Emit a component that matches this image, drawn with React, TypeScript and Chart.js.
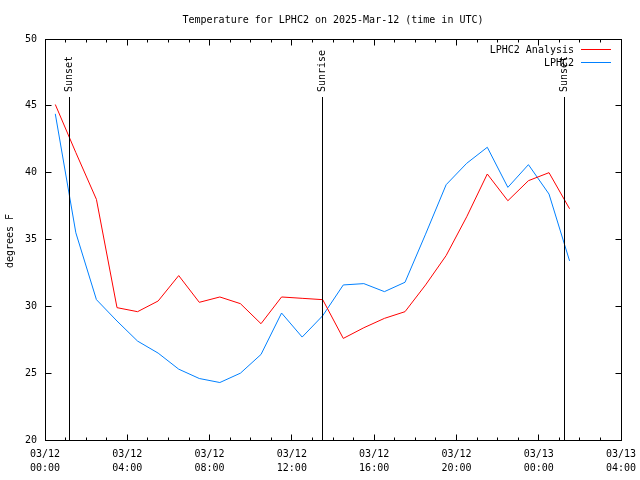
import React, { useEffect, useRef } from "react";
import { Chart, registerables } from "chart.js";

Chart.register(...registerables);

// ---- data (hours after 03/12 00:00 UTC) ----
const hours = [
  0.5, 1.5, 2.5, 3.5, 4.5, 5.5, 6.5, 7.5, 8.5, 9.5, 10.5, 11.5, 12.5,
  13.5, 14.5, 15.5, 16.5, 17.5, 18.5, 19.5, 20.5, 21.5, 22.5, 23.5, 24.5, 25.5,
];
const analysisTemps = [
  45.1, 41.5, 38.0, 29.9, 29.6, 30.4, 32.3, 30.3, 30.7, 30.2, 28.7, 30.7, 30.6,
  30.5, 27.6, 28.4, 29.1, 29.6, 31.6, 33.8, 36.7, 39.9, 37.9, 39.4, 40.0, 37.3,
];
const observedTemps = [
  44.4, 35.5, 30.5, 28.9, 27.4, 26.5, 25.3, 24.6, 24.3, 25.0, 26.4, 29.5, 27.7,
  29.3, 31.6, 31.7, 31.1, 31.8, 35.4, 39.1, 40.7, 41.9, 38.9, 40.6, 38.4, 33.4,
];
const seriesLabels = ["LPHC2 Analysis", "LPHC2"];
const seriesColors = ["#ff0000", "#0080ff"];

const sunLabels = ["Sunset", "Sunrise", "Sunset"];
const sunHours = [1.19, 13.49, 25.25];

const xTickDates = ["03/12", "03/12", "03/12", "03/12", "03/12", "03/12", "03/13", "03/13"];
const xTickTimes = ["00:00", "04:00", "08:00", "12:00", "16:00", "20:00", "00:00", "04:00"];
const yTicks = [20, 25, 30, 35, 40, 45, 50];

const titleText = "Temperature for LPHC2 on 2025-Mar-12 (time in UTC)";
const yTitle = "degrees F";

const FONT = "DejaVu Sans Mono";

const overlay = {
  id: "overlay",
  afterDatasetsDraw(chart: any) {
    const { ctx, chartArea: a, scales } = chart;
    const xs = scales.x;
    const ys = scales.y;
    const L = Math.floor(a.left) + 0.5;
    const R = Math.floor(a.right) + 0.5;
    const T = Math.floor(a.top) + 0.5;
    const B = Math.floor(a.bottom) + 0.5;
    const line = (x1: number, y1: number, x2: number, y2: number) => {
      ctx.beginPath();
      ctx.moveTo(x1, y1);
      ctx.lineTo(x2, y2);
      ctx.stroke();
    };
    ctx.save();
    ctx.strokeStyle = "#000";
    ctx.lineWidth = 1;
    ctx.strokeRect(L, T, R - L, B - T);
    // x ticks (hourly minor, 4-hourly major), inward on bottom and top
    for (let h = 1; h < 28; h++) {
      const px = Math.floor(xs.getPixelForValue(h)) + 0.5;
      const len = h % 4 === 0 ? 6 : 3;
      line(px, B, px, B - len);
      line(px, T, px, T + len);
    }
    // y ticks inward on left and right
    for (const v of yTicks) {
      const py = Math.floor(ys.getPixelForValue(v)) + 0.5;
      line(L, py, L + 6, py);
      line(R, py, R - 6, py);
    }
    // sun event lines and labels
    ctx.fillStyle = "#000";
    ctx.font = `10px "${FONT}"`;
    sunHours.forEach((h, i) => {
      const px = Math.floor(xs.getPixelForValue(h)) + 0.5;
      line(px, 97, px, B);
      ctx.save();
      ctx.translate(px, 92);
      ctx.rotate(-Math.PI / 2);
      ctx.textAlign = "left";
      ctx.textBaseline = "middle";
      ctx.fillText(sunLabels[i], 0, 0);
      ctx.restore();
    });
    // legend
    const legY = [50, 63];
    seriesLabels.forEach((lab, i) => {
      ctx.textAlign = "right";
      ctx.textBaseline = "middle";
      ctx.fillStyle = "#000";
      ctx.fillText(lab, 574, legY[i]);
      ctx.strokeStyle = seriesColors[i];
      line(581, legY[i] - 0.5, 611, legY[i] - 0.5);
    });
    // title
    ctx.fillStyle = "#000";
    ctx.textAlign = "center";
    ctx.textBaseline = "middle";
    ctx.fillText(titleText, (a.left + a.right) / 2, 20);
    // y axis title
    ctx.save();
    ctx.translate(10, 241);
    ctx.rotate(-Math.PI / 2);
    ctx.textAlign = "center";
    ctx.textBaseline = "middle";
    ctx.fillText(yTitle, 0, 0);
    ctx.restore();
    ctx.restore();
  },
};

export default function App() {
  const ref = useRef<HTMLCanvasElement | null>(null);
  useEffect(() => {
    if (!ref.current) return;
    const chart = new Chart(ref.current, {
      type: "line",
      data: {
        datasets: [
          {
            label: seriesLabels[0],
            data: hours.map((h, i) => ({ x: h, y: analysisTemps[i] })),
            borderColor: seriesColors[0],
            borderWidth: 1,
            pointRadius: 0,
            tension: 0,
            fill: false,
          },
          {
            label: seriesLabels[1],
            data: hours.map((h, i) => ({ x: h, y: observedTemps[i] })),
            borderColor: seriesColors[1],
            borderWidth: 1,
            pointRadius: 0,
            tension: 0,
            fill: false,
          },
        ],
      },
      options: {
        animation: false,
        responsive: false,
        devicePixelRatio: 1,
        layout: { padding: { top: 39, right: 19, left: 0, bottom: 0 } },
        plugins: {
          legend: { display: false },
          title: { display: false },
          tooltip: { enabled: false },
        },
        events: [],
        scales: {
          x: {
            type: "linear",
            min: 0,
            max: 28,
            afterFit: (s: any) => {
              s.height = 40;
              s.paddingLeft = 0;
              s.paddingRight = 0;
            },
            grid: { display: false, drawTicks: false },
            border: { display: false },
            ticks: {
              stepSize: 4,
              autoSkip: false,
              maxRotation: 0,
              padding: 7,
              color: "#000",
              font: { family: FONT, size: 10, lineHeight: 1.4 },
              callback: (v: any) => {
                const i = Math.round(Number(v) / 4);
                return [xTickDates[i], xTickTimes[i]];
              },
            },
          },
          y: {
            type: "linear",
            min: 20,
            max: 50,
            afterFit: (s: any) => {
              s.width = 45;
              s.paddingTop = 0;
              s.paddingBottom = 0;
            },
            grid: { display: false, drawTicks: false },
            border: { display: false },
            ticks: {
              stepSize: 5,
              padding: 8,
              color: "#000",
              font: { family: FONT, size: 10 },
              callback: (v: any) => (yTicks.includes(Number(v)) ? String(v) : ""),
            },
          },
        },
      },
      plugins: [overlay],
    });
    return () => chart.destroy();
  }, []);
  return (
    <div style={{ position: "absolute", left: 0, top: 0, width: 640, height: 480, background: "#fff" }}>
      <canvas ref={ref} width={640} height={480} style={{ display: "block" }} />
    </div>
  );
}
